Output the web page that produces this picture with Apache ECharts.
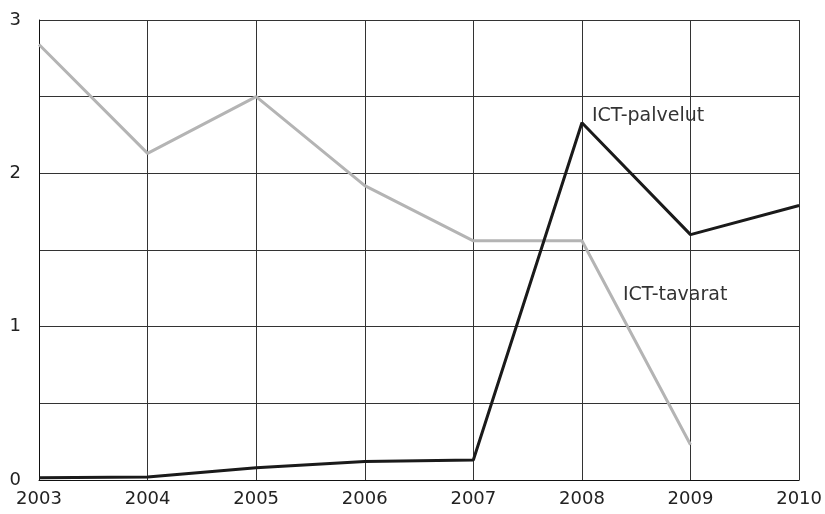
<!DOCTYPE html>
<html>
<head>
<meta charset="utf-8">
<script src="https://cdn.jsdelivr.net/npm/echarts@6/dist/echarts.min.js"></script>
<style>
  html, body { margin: 0; padding: 0; background: #fff; }
  #main { width: 825px; height: 514px; }
</style>
</head>
<body>
<div id="main"></div>
<script>
// vuodet
const years = ['2003', '2004', '2005', '2006', '2007', '2008', '2009', '2010']
// ICT-palvelut (musta)
const palvelut = [0.015, 0.02, 0.08, 0.12, 0.13, 2.33, 1.60, 1.79]
// ICT-tavarat (harmaa)
const tavarat = [2.84, 2.13, 2.50, 1.92, 1.56, 1.56, 0.23, null]
const yTicks = [0, 1, 2, 3]

const labelFont = { fontFamily: 'DejaVu Sans', fontSize: 19, color: '#333' }

// nimilappu sarjan viereen vuoden 2008 kohdalle
function nameLabel (name, data, offset) {
  return {
    symbol: 'circle',
    symbolSize: 0,
    silent: true,
    data: [{
      coord: ['2008', data[5]],
      label: { show: true, position: 'right', distance: 0, offset: offset, formatter: name, ...labelFont }
    }]
  }
}

const myChart = echarts.init(document.getElementById('main'))
const option = {
  animation: false,
  grid: { left: 39, right: 25, top: 20, bottom: 34 },
  xAxis: {
    type: 'category',
    data: years,
    boundaryGap: false,
    axisLine: { lineStyle: { color: '#111', width: 1 } },
    axisTick: { show: false },
    axisLabel: { fontFamily: 'DejaVu Sans', fontSize: 18, color: '#222', margin: 10 },
    splitLine: { show: true, lineStyle: { color: '#333', width: 1 } }
  },
  yAxis: {
    type: 'value',
    min: 0,
    max: 3,
    interval: 0.5,
    axisLine: { show: true, lineStyle: { color: '#111', width: 1 } },
    axisTick: { show: false },
    axisLabel: {
      fontFamily: 'DejaVu Sans',
      fontSize: 18,
      color: '#222',
      margin: 18,
      formatter: v => yTicks.includes(v) ? String(v) : ''
    },
    splitLine: { show: true, lineStyle: { color: '#333', width: 1 } }
  },
  series: [
    {
      name: 'ICT-tavarat',
      type: 'line',
      symbol: 'none',
      lineStyle: { color: '#b4b4b4', width: 3 },
      data: tavarat,
      markPoint: nameLabel('ICT-tavarat', tavarat, [41, 54])
    },
    {
      name: 'ICT-palvelut',
      type: 'line',
      symbol: 'none',
      lineStyle: { color: '#1a1a1a', width: 3 },
      data: palvelut,
      markPoint: nameLabel('ICT-palvelut', palvelut, [10, -7])
    }
  ]
}
myChart.setOption(option)
</script>
</body>
</html>
